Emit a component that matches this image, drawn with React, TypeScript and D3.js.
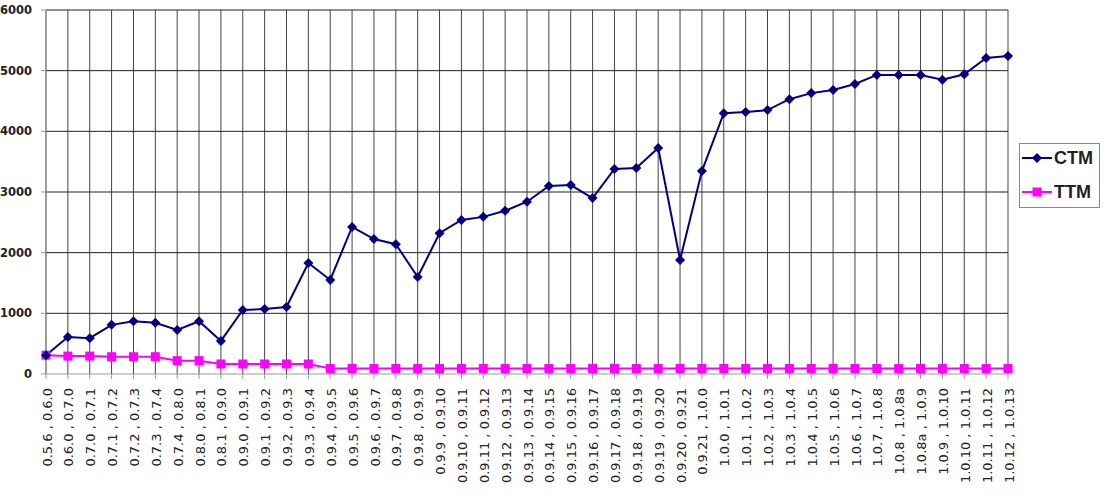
import * as d3 from 'd3';

const categories = [
  '0.5.6 , 0.6.0', '0.6.0 , 0.7.0', '0.7.0 , 0.7.1', '0.7.1 , 0.7.2', '0.7.2 , 0.7.3',
  '0.7.3 , 0.7.4', '0.7.4 , 0.8.0', '0.8.0 , 0.8.1', '0.8.1 , 0.9.0', '0.9.0 , 0.9.1',
  '0.9.1 , 0.9.2', '0.9.2 , 0.9.3', '0.9.3 , 0.9.4', '0.9.4 , 0.9.5', '0.9.5 , 0.9.6',
  '0.9.6 , 0.9.7', '0.9.7 , 0.9.8', '0.9.8 , 0.9.9', '0.9.9 , 0.9.10', '0.9.10 , 0.9.11',
  '0.9.11 , 0.9.12', '0.9.12 , 0.9.13', '0.9.13 , 0.9.14', '0.9.14 , 0.9.15', '0.9.15 , 0.9.16',
  '0.9.16 , 0.9.17', '0.9.17 , 0.9.18', '0.9.18 , 0.9.19', '0.9.19 , 0.9.20', '0.9.20 , 0.9.21',
  '0.9.21 , 1.0.0', '1.0.0 , 1.0.1', '1.0.1 , 1.0.2', '1.0.2 , 1.0.3', '1.0.3 , 1.0.4',
  '1.0.4 , 1.0.5', '1.0.5 , 1.0.6', '1.0.6 , 1.0.7', '1.0.7 , 1.0.8', '1.0.8 , 1.0.8a',
  '1.0.8a , 1.0.9', '1.0.9 , 1.0.10', '1.0.10 , 1.0.11', '1.0.11 , 1.0.12', '1.0.12 , 1.0.13'
];

const ctm = [
  310, 610, 590, 810, 870, 845, 725, 870, 545, 1055,
  1070, 1105, 1830, 1550, 2425, 2225, 2140, 1600, 2320, 2540,
  2590, 2690, 2840, 3100, 3115, 2900, 3380, 3395, 3725, 1880,
  3345, 4300, 4320, 4350, 4530, 4630, 4680, 4780, 4930, 4930,
  4930, 4850, 4940, 5210, 5240
];

const ttm = [
  310, 295, 295, 285, 285, 285, 220, 220, 165, 165,
  165, 165, 165, 90, 90, 90, 90, 90, 90, 90,
  90, 90, 90, 90, 90, 90, 90, 90, 90, 90,
  90, 90, 90, 90, 90, 90, 90, 90, 90, 90,
  90, 90, 90, 90, 90
];

const yTicks = [0, 1000, 2000, 3000, 4000, 5000, 6000];

const W = 1107;
const H = 496;
const left = 46;
const right = 1008;
const top = 10;
const bottom = 374;

export default function App() {
  const x = d3.scalePoint<string>().domain(categories).range([left, right]);
  const y = d3.scaleLinear().domain([0, 6000]).range([bottom, top]);

  const line = d3.line<number>()
    .x((_, i) => x(categories[i]) as number)
    .y(d => y(d));

  const font = '"DejaVu Sans", Verdana, sans-serif';

  return (
    <svg width={W} height={H} style={{ position: 'absolute', left: 0, top: 0, background: '#fff' }} fontFamily={font}>
      {/* vertical gridlines */}
      {categories.map(c => (
        <line key={'v' + c} x1={x(c)} x2={x(c)} y1={top} y2={bottom} stroke="#444" strokeWidth={1} />
      ))}
      {/* horizontal gridlines */}
      {yTicks.filter(t => t > 0).map(t => (
        <line key={'h' + t} x1={left} x2={right} y1={y(t)} y2={y(t)} stroke="#222" strokeWidth={1} />
      ))}
      {/* axes */}
      <line x1={left} x2={left} y1={top} y2={bottom} stroke="#999" />
      <line x1={left} x2={right} y1={bottom} y2={bottom} stroke="#999" />
      {yTicks.map(t => (
        <line key={'yt' + t} x1={left - 5} x2={left} y1={y(t)} y2={y(t)} stroke="#999" />
      ))}
      {categories.map(c => (
        <line key={'xt' + c} x1={x(c)} x2={x(c)} y1={bottom} y2={bottom + 5} stroke="#999" />
      ))}
      {/* y labels */}
      {yTicks.map(t => (
        <text key={'yl' + t} x={32} y={y(t)} dy="0.35em" textAnchor="end" fontSize={11.5} fontWeight="bold" fill="#222">
          {t}
        </text>
      ))}
      {/* x labels */}
      {categories.map(c => (
        <text
          key={'xl' + c}
          transform={`translate(${(x(c) as number) + 1},${bottom + 14}) rotate(-90)`}
          dy="0.35em"
          textAnchor="end"
          fontSize={13}
          fill="#222"
        >
          {c}
        </text>
      ))}
      {/* series */}
      <path d={line(ttm) || ''} fill="none" stroke="#ff00ff" strokeWidth={2} />
      <path d={line(ctm) || ''} fill="none" stroke="#000080" strokeWidth={2} />
      {ttm.map((v, i) => (
        <rect key={'ts' + i} x={(x(categories[i]) as number) - 4.5} y={y(v) - 4.5} width={9} height={9} fill="#ff00ff" />
      ))}
      {ctm.map((v, i) => {
        const cx = x(categories[i]) as number;
        const cy = y(v);
        return (
          <path key={'cs' + i} d={`M${cx},${cy - 5}L${cx + 5},${cy}L${cx},${cy + 5}L${cx - 5},${cy}Z`} fill="#000080" />
        );
      })}
      {/* legend */}
      <rect x={1019.5} y={143.5} width={80} height={64} fill="#fff" stroke="#888" />
      <line x1={1022} x2={1052} y1={158} y2={158} stroke="#000080" strokeWidth={2} />
      <path d="M1037,153L1042,158L1037,163L1032,158Z" fill="#000080" />
      <text x={1054} y={158} dy="0.36em" fontSize={18} fontWeight="bold" fill="#222" fontFamily='"Liberation Sans", Arial, sans-serif'>CTM</text>
      <line x1={1022} x2={1052} y1={192} y2={192} stroke="#ff00ff" strokeWidth={2} />
      <rect x={1032.5} y={187.5} width={9} height={9} fill="#ff00ff" />
      <text x={1054} y={192} dy="0.36em" fontSize={18} fontWeight="bold" fill="#222" fontFamily='"Liberation Sans", Arial, sans-serif'>TTM</text>
    </svg>
  );
}
